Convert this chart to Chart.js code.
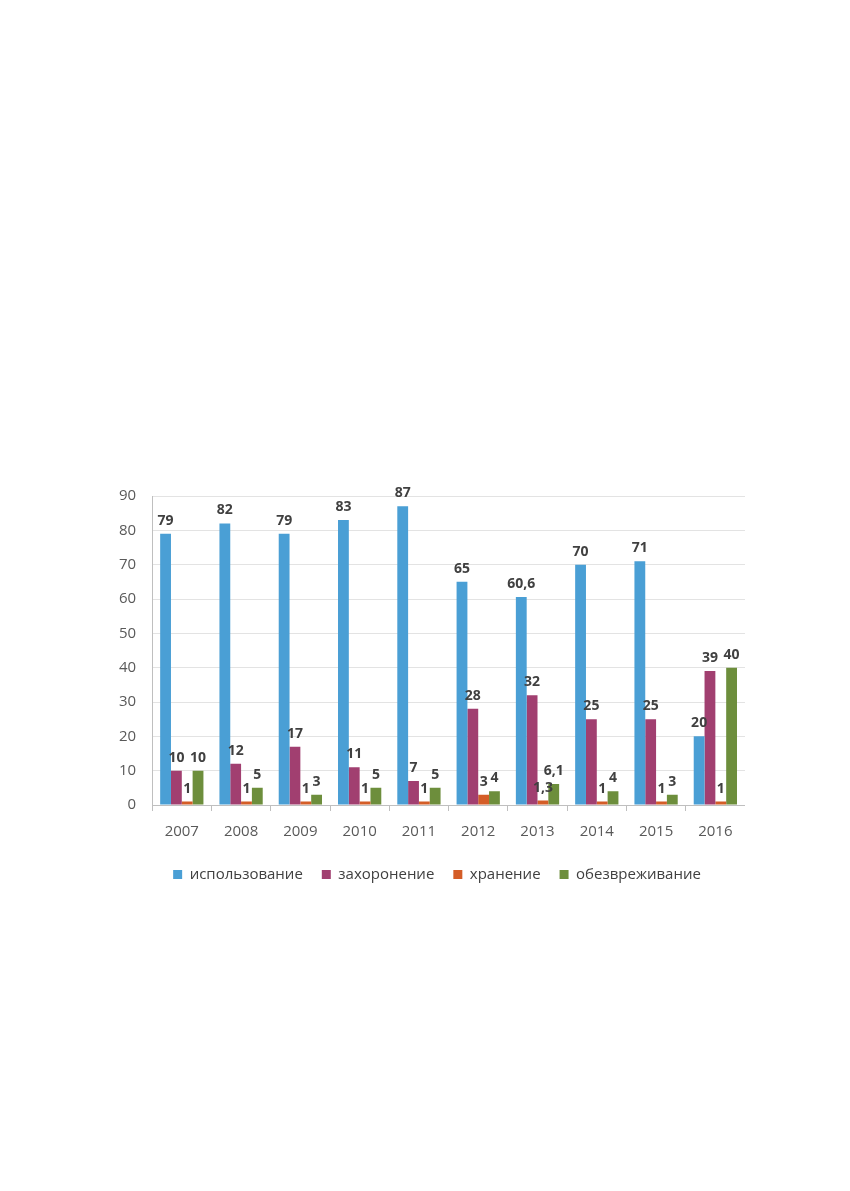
<!DOCTYPE html>
<html>
<head>
<meta charset="utf-8">
<script src="https://cdn.jsdelivr.net/npm/chart.js@4.4.1/dist/chart.umd.min.js"></script>
<style>
  html, body { margin:0; padding:0; background:#fff; }
  #wrap { position:absolute; left:103px; top:471px; width:642px; height:426px; }
</style>
</head>
<body>
<div id="wrap"><canvas id="c"></canvas></div>
<script>
// данные с диаграммы
const years        = ['2007','2008','2009','2010','2011','2012','2013','2014','2015','2016'];
const ispolzovanie = [79, 82, 79, 83, 87, 65, 60.6, 70, 71, 20];
const zahoronenie  = [10, 12, 17, 11, 7, 28, 32, 25, 25, 39];
const hranenie     = [1, 1, 1, 1, 1, 3, 1.3, 1, 1, 1];
const obezvrezh    = [10, 5, 3, 5, 5, 4, 6.1, 4, 3, 40];

const FONT = '"Open Sans", "Noto Sans", sans-serif';

// подписи значений над столбцами
const valueLabels = {
  id: 'valueLabels',
  afterDatasetsDraw(chart){
    const ctx = chart.ctx;
    ctx.save();
    ctx.font = 'bold 14px ' + FONT;
    ctx.fillStyle = '#404040';
    ctx.textAlign = 'center';
    ctx.textBaseline = 'bottom';
    chart.data.datasets.forEach((ds, i) => {
      const meta = chart.getDatasetMeta(i);
      meta.data.forEach((bar, j) => {
        const txt = String(ds.data[j]).replace('.', ',');
        ctx.fillText(txt, bar.x, bar.y - 6);
      });
    });
    ctx.restore();
  }
};

// легенда чуть правее и выше, как в оригинале
const legendShift = {
  id: 'legendShift',
  afterLayout(chart){
    const lg = chart.legend;
    if (!lg) return;
    lg.left += 13; lg.right += 13;
    lg.top -= 5; lg.bottom -= 5;
  }
};

new Chart(document.getElementById('c'), {
  type: 'bar',
  data: {
    labels: years,
    datasets: [
      { label: 'использование', data: ispolzovanie, backgroundColor: '#4a9fd5' },
      { label: 'захоронение',   data: zahoronenie,  backgroundColor: '#a13f70' },
      { label: 'хранение',      data: hranenie,     backgroundColor: '#d45d27' },
      { label: 'обезвреживание',data: obezvrezh,    backgroundColor: '#6d8e3c' },
    ]
  },
  options: {
    responsive: true,
    maintainAspectRatio: false,
    animation: false,
    datasets: { bar: { categoryPercentage: 0.73, barPercentage: 1.0, borderWidth: 0 } },
    layout: { padding: { left: 0, right: 0, top: 10, bottom: 0 } },
    plugins: {
      legend: {
        position: 'bottom',
        labels: {
          boxWidth: 9, boxHeight: 9, padding: 19,
          color: '#404040',
          font: { family: FONT, size: 15 }
        }
      },
      tooltip: { enabled: false }
    },
    scales: {
      x: {
        grid: { display: true, drawOnChartArea: false, offset: true, tickLength: 6, color: '#bfbfbf' },
        border: { color: '#bfbfbf' },
        ticks: { color: '#595959', font: { family: FONT, size: 15 }, padding: 12 }
      },
      y: {
        min: 0, max: 90,
        ticks: { stepSize: 10, color: '#595959', font: { family: FONT, size: 15 }, padding: 16 },
        grid: { color: '#e3e3e3', drawTicks: false },
        border: { color: '#bfbfbf' }
      }
    }
  },
  plugins: [valueLabels, legendShift]
});
</script>
</body>
</html>
